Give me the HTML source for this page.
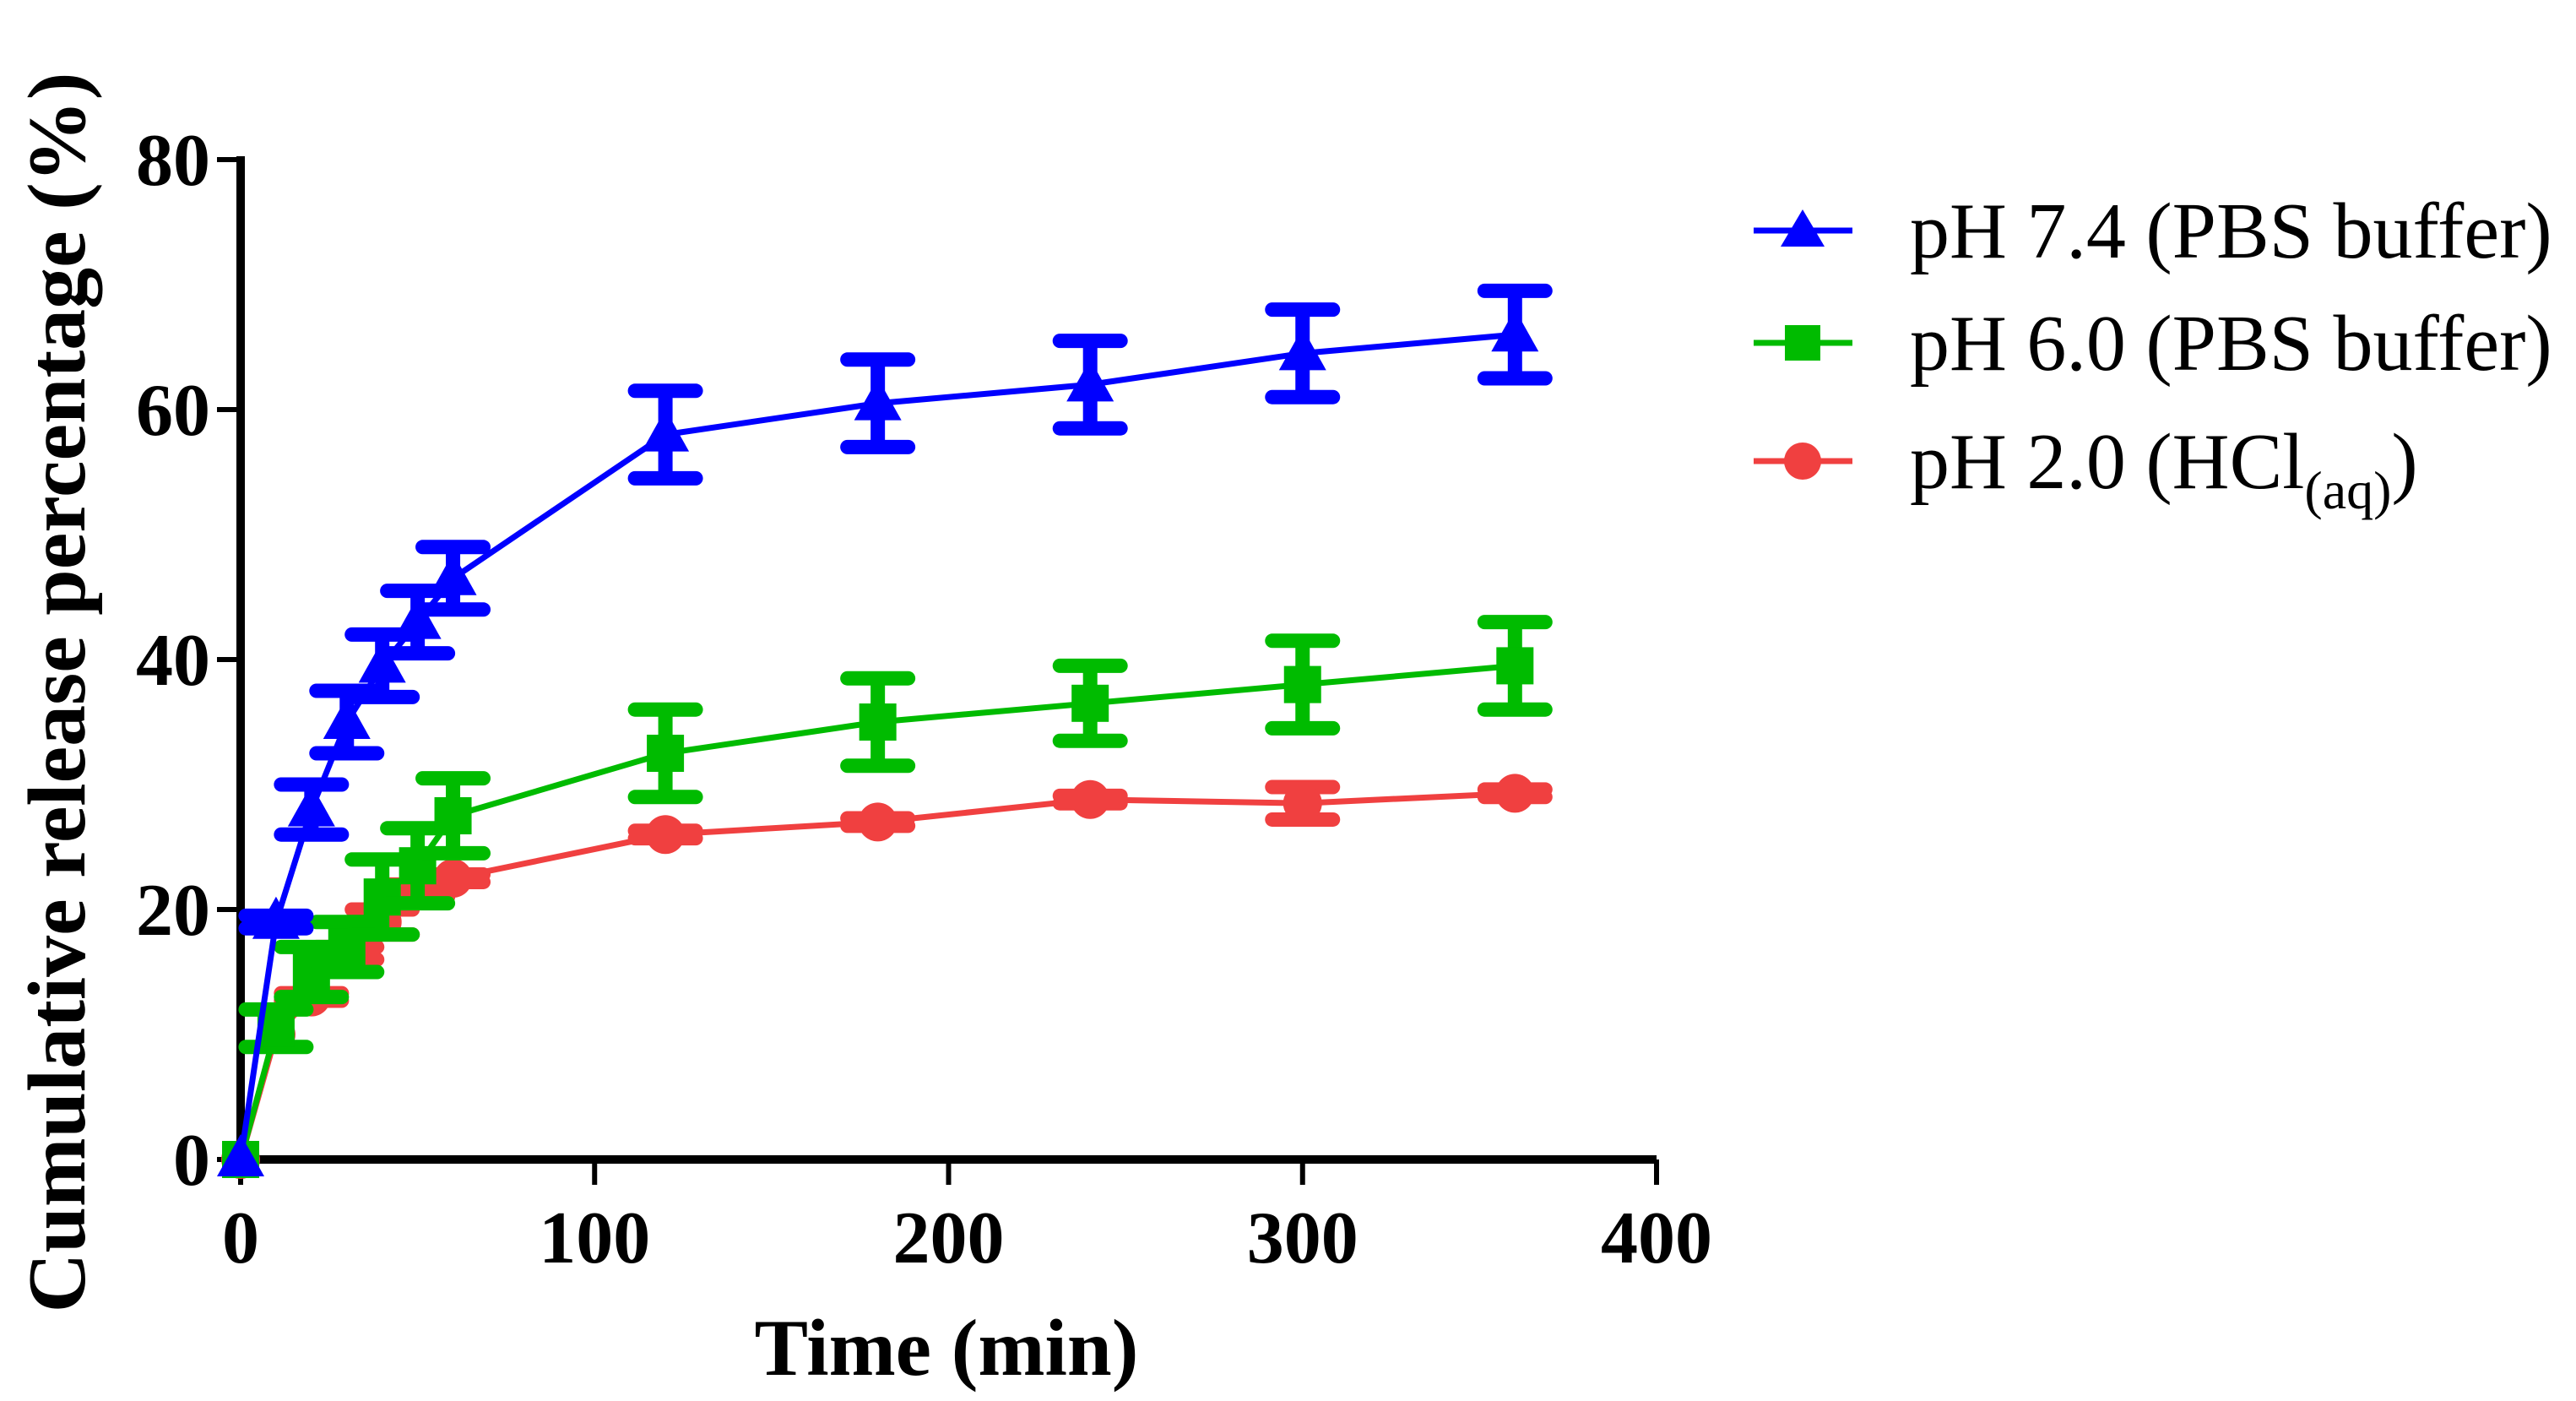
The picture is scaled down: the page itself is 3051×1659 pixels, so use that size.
<!DOCTYPE html>
<html><head><meta charset="utf-8"><style>
html,body{margin:0;padding:0;background:#fff;}
svg{display:block;font-family:"Liberation Serif",serif;}
</style></head><body>
<svg id="chart" width="3051" height="1659" viewBox="0 0 3051 1659" xmlns="http://www.w3.org/2000/svg">
<g id="axes"></g>
<g id="series"></g>
<text x="1121" y="1628" font-size="95" font-weight="bold" text-anchor="middle">Time (min)</text>
<text transform="translate(100,820) rotate(-90)" font-size="98" font-weight="bold" text-anchor="middle">Cumulative release percentage (%)</text>
<g>
 <g>
  <line x1="2077" y1="273" x2="2194" y2="273" stroke="#0000ff" stroke-width="7"/>
  <polygon points="2135,248 2161,292 2109,292" fill="#0000ff"/>
  <text x="2262" y="305" font-size="94">pH 7.4 (PBS buffer)</text>
 </g>
 <g>
  <line x1="2077" y1="406" x2="2194" y2="406" stroke="#00bb00" stroke-width="7"/>
  <rect x="2114" y="385" width="42" height="42" fill="#00bb00"/>
  <text x="2262" y="438" font-size="94">pH 6.0 (PBS buffer)</text>
 </g>
 <g>
  <line x1="2077" y1="546" x2="2194" y2="546" stroke="#f04040" stroke-width="7"/>
  <circle cx="2135" cy="546" r="22" fill="#f04040"/>
  <text x="2262" y="578" font-size="94">pH 2.0 (HCl<tspan font-size="64" dy="24">(aq)</tspan><tspan dy="-24">)</tspan></text>
 </g>
</g>
</svg>
<script>
const times = [0,10,20,30,40,50,60,120,180,240,300,360];
const ph74 = [0,19,28,35,39.5,43,46.5,58,60.5,62,64.5,66];
const ph74Err = [0,0.5,2,2.5,2.5,2.5,2.5,3.5,3.5,3.5,3.5,3.5];
const ph60 = [0,10.5,15,17,21,23.5,27.5,32.5,35,36.5,38,39.5];
const ph60Err = [0,1.5,2,2,3,3,3,3.5,3.5,3,3.5,3.5];
const ph20 = [0,10,13,16.5,19,21.5,22.5,26,27,28.8,28.5,29.3];
const ph20Err = [0,0,0.3,0.5,1,0.5,0.3,0.3,0.3,0.3,1.3,0.3];
const xTicks = [0,100,200,300,400];
const yTicks = [0,20,40,60,80];

const NS="http://www.w3.org/2000/svg";
const X0=285,X1=1962,Y0=1373,Y1=189;
const xs=v=>X0+(X1-X0)*v/400;
const ys=v=>Y0-(Y0-Y1)*v/80;
function mk(tag,attrs,parent){const e=document.createElementNS(NS,tag);for(const k in attrs)e.setAttribute(k,attrs[k]);parent.appendChild(e);return e;}
const axes=document.getElementById('axes');
let e=mk('line',{x1:X0,y1:Y0,x2:X1,y2:Y0,stroke:'#000','stroke-width':10},axes);


e=mk('line',{x1:X0,y1:Y0+5,x2:X0,y2:Y1-4,stroke:'#000','stroke-width':10},axes);


xTicks.forEach(t=>{
 const l=mk('line',{x1:xs(t),y1:Y0,x2:xs(t),y2:Y0+30,stroke:'#000','stroke-width':6},axes);
 
 
 const tx=mk('text',{x:xs(t),y:Y0+122,'font-size':88,'font-weight':'bold','text-anchor':'middle'},axes);
 tx.textContent=t;
 
 
});
yTicks.forEach(t=>{
 const l=mk('line',{x1:X0-28,y1:ys(t),x2:X0,y2:ys(t),stroke:'#000','stroke-width':6},axes);
 
 
 const tx=mk('text',{x:X0-36,y:ys(t)+30,'font-size':88,'font-weight':'bold','text-anchor':'end'},axes);
 tx.textContent=t;
 
 
});
const series=document.getElementById('series');
function draw(vals,errs,color,marker,name){
 const g=mk('g',{},series);
 
 
 mk('polyline',{points:times.map((t,i)=>xs(t)+','+ys(vals[i])).join(' '),fill:'none',stroke:color,'stroke-width':7},g);
 times.forEach((t,i)=>{
  const x=xs(t),y=ys(vals[i]);
  if(errs[i]>0){
   const yt=ys(vals[i]+errs[i]),yb=ys(vals[i]-errs[i]);
   const eb=mk('path',{d:`M${x},${yt}V${yb}M${x-36},${yt}H${x+36}M${x-36},${yb}H${x+36}`,stroke:color,'stroke-width':17,'stroke-linecap':'round',fill:'none'},g);
   
   
  }
  let m;
  if(marker==='tri') m=mk('polygon',{points:`${x},${y-30} ${x+28},${y+20} ${x-28},${y+20}`,fill:color},g);
  else if(marker==='sq') m=mk('rect',{x:x-22,y:y-22,width:44,height:44,fill:color},g);
  else m=mk('circle',{cx:x,cy:y,r:23,fill:color},g);
  
  
 });
}
draw(ph20,ph20Err,'#f04040','circ','series-ph20');
draw(ph60,ph60Err,'#00bb00','sq','series-ph60');
draw(ph74,ph74Err,'#0000ff','tri','series-ph74');
</script>
</body></html>
